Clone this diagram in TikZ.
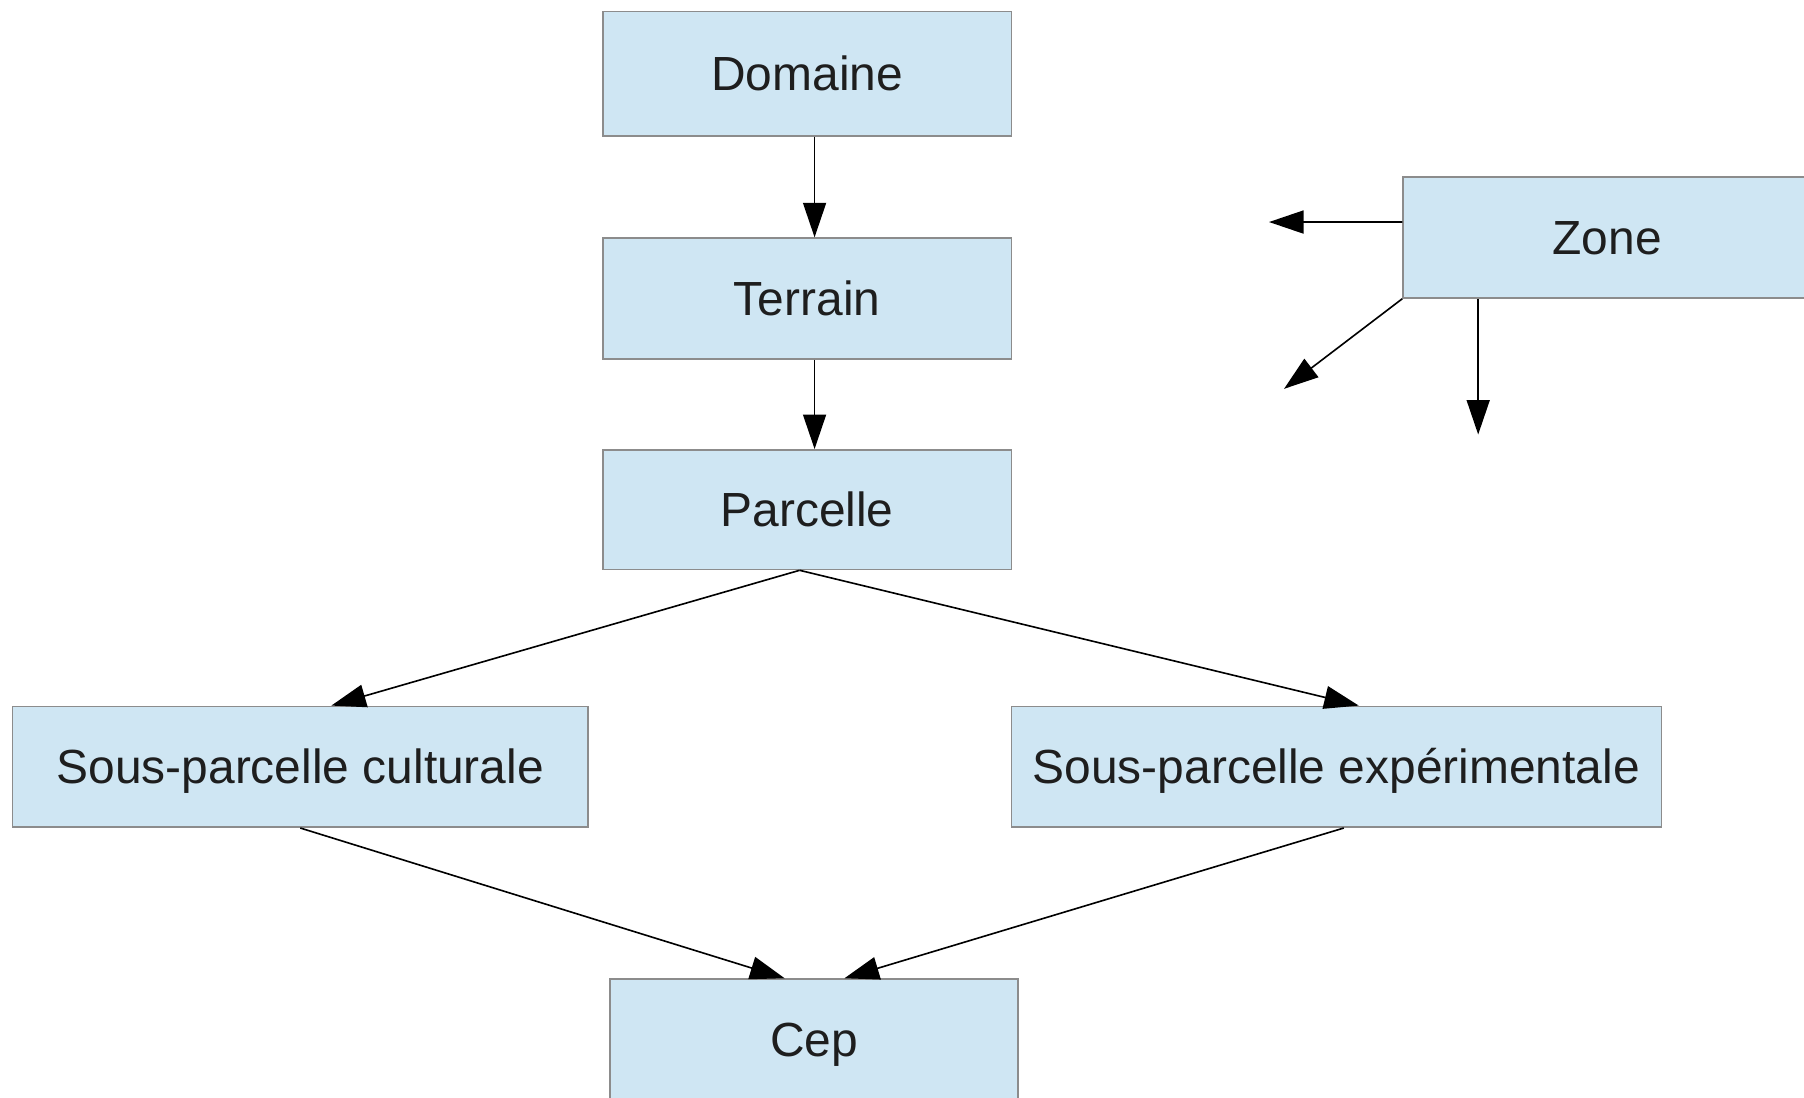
\documentclass[tikz,border=0pt]{standalone}
\usepackage{fontspec}
\setmainfont{Liberation Sans}
\usetikzlibrary{calc,arrows.meta}
\definecolor{boxfill}{RGB}{207,230,243}
\definecolor{boxline}{RGB}{140,140,140}
\definecolor{txt}{RGB}{30,30,30}
\begin{document}
\begin{tikzpicture}[>={Triangle[length=3mm,width=2mm]},
		bloc/.style={draw=boxline,fill=boxfill,line width=0.4pt,inner sep=0pt,
			minimum width=3.55cm,minimum height=1.05cm,text=txt,
			text height=0.84em,text depth=0pt,
			font=\fontsize{11.85}{14}\selectfont},
		lien/.style={->,line width=0.4pt,black}]
				\useasboundingbox (0,0) rectangle (15.68,-9.54);
				
				\node[bloc,minimum height=1.08cm] (Domaine) at (7.015,-0.64) {Domaine};
				\node[bloc] (Terrain) at (7.015,-2.595) {Terrain};
				\node[bloc,minimum height=1.04cm] (Parcelle) at (7.015,-4.43) {Parcelle};
				\node[bloc,minimum width=5cm] (SPC) at (2.61,-6.665) {Sous-parcelle culturale};
				\node[bloc,minimum width=5.65cm] (SPE) at (11.615,-6.665) {Sous-parcelle expérimentale};
				\node[bloc] (Cep) at (7.075,-9.035) {Cep};
				\node[bloc] (Zone) at (13.97,-2.065) {Zone};
				
				\coordinate (zl) at (11.03,-1.93);
				\coordinate (zd) at (11.16,-3.38);
				\coordinate (zb) at ($(Zone.south west)+(0.66,-1.18)$);
				
				\draw[lien] ($(Domaine.south)+(0.065,0)$) -- ($(Terrain.north)+(0.065,0)$);
				\draw[lien] ($(Terrain.south)+(0.065,0)$) -- ($(Parcelle.north)+(0.065,0)$);
				\draw[lien] ($(Parcelle.south)+(-0.065,0)$) -- ($(SPC.north)+(0.27,0)$);
				\draw[lien] ($(Parcelle.south)+(-0.065,0)$) -- ($(SPE.north)+(0.195,0)$);
				\draw[lien] (SPC.south) -- ($(Cep.north)+(-0.255,0)$);
				\draw[lien] ($(SPE.south)+(0.065,0)$) -- ($(Cep.north)+(0.265,0)$);
				
				\draw[lien] ($(Zone.west)+(0,0.135)$) -- (zl);
				\draw[lien] (Zone.south west) -- (zd);
				\draw[lien] ($(Zone.south west)+(0.66,0)$) -- (zb);
\end{tikzpicture}
\end{document}
